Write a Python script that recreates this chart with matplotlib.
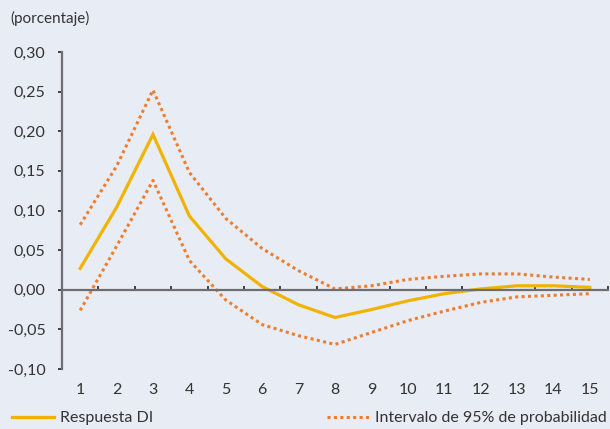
import matplotlib
matplotlib.use("Agg")
import matplotlib.pyplot as plt
from matplotlib.lines import Line2D
import numpy as np

plt.rcParams['font.family'] = ['Lato', 'DejaVu Sans']

periodos = list(range(1, 16))
respuesta = [0.027, 0.104, 0.196, 0.093, 0.039, 0.004, -0.019, -0.035,
             -0.025, -0.014, -0.005, 0.001, 0.005, 0.005, 0.003]
superior = [0.082, 0.156, 0.252, 0.148, 0.090, 0.052, 0.024, 0.001,
            0.005, 0.013, 0.017, 0.020, 0.020, 0.016, 0.013]
inferior = [-0.026, 0.055, 0.138, 0.037, -0.013, -0.044, -0.058, -0.069,
            -0.054, -0.039, -0.027, -0.016, -0.009, -0.007, -0.005]
yticks = [-0.10, -0.05, 0.00, 0.05, 0.10, 0.15, 0.20, 0.25, 0.30]

fondo = "#e8ecf5"
amarillo = "#f0b400"
naranja = "#ee7d2e"
gris = "#6d6e72"

fig = plt.figure(figsize=(6.10, 4.29), dpi=100, facecolor=fondo)
ax = fig.add_axes([62/610, 60/429, 546/610, 317/429], facecolor=fondo)

ax.plot(periodos, respuesta, color=amarillo, lw=2.3, solid_joinstyle="miter")
ax.plot(periodos, superior, color=naranja, lw=2.2, ls=(0, (1, 1.1)))
ax.plot(periodos, inferior, color=naranja, lw=2.2, ls=(0, (1, 1.1)))

ax.set_xlim(0.5, 15.5)
ax.set_ylim(-0.10, 0.30)
ax.set_yticks(yticks)
ax.set_yticklabels([f"{v:.2f}".replace(".", ",") for v in yticks])

ax.set_xticks(periodos)
ax.set_xticks(np.arange(1.5, 16, 1.0), minor=True)
ax.tick_params(axis="x", which="major", length=0, pad=67, labelsize=11.5, colors="#333333")
ax.tick_params(axis="x", which="minor", direction="in", length=3, width=1.3, color="#333333")
ax.tick_params(axis="y", direction="out", length=3, width=1.3, pad=9, labelsize=11.5,
               colors="#333333")

for s in ["top", "right"]:
    ax.spines[s].set_visible(False)
ax.spines["bottom"].set_position(("data", 0))
for s in ["bottom", "left"]:
    ax.spines[s].set_color(gris)
    ax.spines[s].set_linewidth(1.6)

fig.text(10/610, 1 - 18/429, "(porcentaje)", fontsize=11, color="#333333", va="center")

h1 = Line2D([], [], color=amarillo, lw=2.3)
h2 = Line2D([], [], color=naranja, lw=2.2, ls=(0, (1, 1.1)))
leg1 = fig.legend([h1], ["Respuesta DI"], loc="center left", bbox_to_anchor=(12/610, 11/429),
                  frameon=False, fontsize=11.5, handlelength=2.6, handletextpad=0.4,
                  borderpad=0, borderaxespad=0, labelcolor="#333333")
leg2 = fig.legend([h2], ["Intervalo de 95% de probabilidad"], loc="center right",
                  bbox_to_anchor=(607/610, 11/429), frameon=False, fontsize=11.5,
                  handlelength=2.6, handletextpad=0.4, borderpad=0, borderaxespad=0,
                  labelcolor="#333333")

fig.savefig("out.png", dpi=100, facecolor=fondo)
